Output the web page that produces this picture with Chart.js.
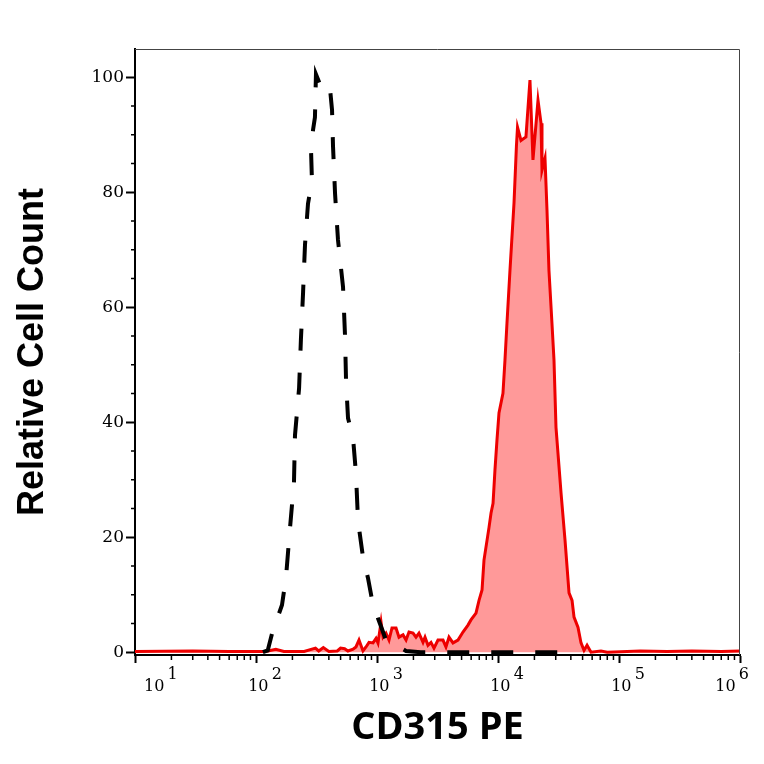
<!DOCTYPE html>
<html>
<head>
<meta charset="utf-8">
<script src="https://cdn.jsdelivr.net/npm/chart.js@4.4.1/dist/chart.umd.min.js"></script>
<style>
  html, body { margin: 0; padding: 0; background: #fff; }
  #wrap { width: 764px; height: 764px; }
</style>
</head>
<body>
<div id="wrap"><canvas id="histo" width="764" height="764"></canvas></div>
<script>
// isotype control histogram (black dashed), fluorescence value -> relative count
const ctrlX = [114, 125, 136, 164, 177, 191, 206, 210, 227, 235,
               245, 254, 269, 290, 285, 296, 307, 313, 357, 409,
               425, 433, 450, 476, 524, 544, 555, 576, 633, 670,
               697, 766, 842, 927, 1019, 1187, 1436, 1738, 2300, 38000];
const ctrlY = [0, 0.3, 3.3, 8.2, 13, 21.6, 29.6, 37.7, 45.9, 54.3,
               62.6, 70.8, 78, 82, 87.3, 90.8, 93, 100.5, 97.5, 98,
               94.3, 88, 79.8, 71.7, 63.5, 55.1, 47.1, 40.7, 37.4, 31.1,
               22.8, 16.5, 12.9, 8.2, 5.9, 2.1, 1.2, 0.2, 0, 0];

// CD315 PE stained histogram (red filled)
const cd315X = [10, 30, 60, 120, 146, 170, 250, 310, 330, 360,
                400, 470, 500, 540, 575, 634, 670, 710, 766, 811,
                859, 927, 982, 1019, 1080, 1122, 1187, 1257, 1330, 1436,
                1520, 1641, 1738, 1838, 1985, 2100, 2223, 2400, 2494, 2638,
                2794, 2958, 3192, 3510, 3715, 3936, 4246, 4671, 5137, 5650,
                5980, 6580, 6970, 7380, 7660, 8430, 8760, 9100, 9440, 9810,
                10190, 10990, 11420, 11860, 12560, 13560, 14200, 14500, 15490, 17020,
                18370, 19450, 21410, 22670, 23100, 24460, 25400, 26370, 27920, 29020,
                30150, 33180, 35800, 38630, 40920, 42490, 45850, 48540, 51400, 54440,
                58720, 70960, 80000, 150000, 250000, 400000, 700000, 1000000];
const cd315Y = [0.1, 0.2, 0.1, 0.1, 0.5, 0.1, 0.1, 0.7, 0.2, 0.8,
                0.1, 0.2, 0.7, 0.6, 0.2, 0.5, 0.9, 2.1, 0.2, 0.9,
                1.7, 1.6, 2.4, 1.6, 5.2, 2.6, 3.3, 2.1, 4.2, 4.2,
                2.6, 3.0, 2.1, 3.5, 3.3, 2.6, 3.3, 1.7, 2.6, 1.2,
                1.7, 0.7, 2.1, 2.1, 0.9, 2.6, 1.6, 2.1, 3.5, 4.7,
                5.6, 6.8, 9.0, 10.8, 16.0, 21.7, 24.2, 25.9, 31.7, 36.9,
                41.6, 45.0, 50.8, 57.2, 66.4, 78.1, 88.0, 91.3, 89.0, 89.6,
                99.5, 85.6, 96.0, 92.0, 83.8, 85.9, 76.9, 66.4, 57.2, 50.8,
                39.1, 27.7, 19.5, 10.3, 9.0, 6.1, 4.3, 1.6, 0.3, 1.2,
                0.0, 0.2, 0.0, 0.2, 0.1, 0.2, 0.1, 0.2];

// axis ticks
const xTicks = [10, 100, 1000, 10000, 100000, 1000000];
const xMinorMult = [2, 3, 4, 5, 6, 7, 8, 9];
const yTicks = [0, 20, 40, 60, 80, 100];
const yMinor = [5, 10, 15, 25, 30, 35, 45, 50, 55, 65, 70, 75, 85, 90, 95];

function toPoints(xs, ys) {
    return xs.map((x, i) => ({ x: x, y: ys[i] }));
}

// "10" with the exponent on a line above it; both lines padded to the same width
// so the exponent sits right of the base whatever the alignment
function powerLabel(v) {
    const exp = String(Math.round(Math.log10(v)));
    return ['\u2007\u2007\u2009' + exp, '10\u2009\u2007'];
}

// thin frame on top/right plus the short minor ticks
const frameAndMinorTicks = {
    id: 'frameAndMinorTicks',
    afterDraw(chart) {
        const ctx = chart.ctx;
        const area = chart.chartArea;
        const xs = chart.scales.x, ys = chart.scales.y;
        ctx.save();
        ctx.strokeStyle = '#444';
        ctx.lineWidth = 1;
        ctx.beginPath();
        ctx.moveTo(area.left, area.top + 0.5);
        ctx.lineTo(area.right - 0.5, area.top + 0.5);
        ctx.lineTo(area.right - 0.5, area.bottom);
        ctx.stroke();

        ctx.strokeStyle = '#000';
        ctx.lineWidth = 1.5;
        ctx.beginPath();
        xTicks.slice(0, -1).forEach(d => xMinorMult.forEach(m => {
            const px = xs.getPixelForValue(d * m);
            ctx.moveTo(px, area.bottom);
            ctx.lineTo(px, area.bottom + 5);
        }));
        yMinor.forEach(v => {
            const py = ys.getPixelForValue(v);
            ctx.moveTo(area.left, py);
            ctx.lineTo(area.left - 4, py);
        });
        ctx.stroke();
        ctx.restore();
    }
};

new Chart(document.getElementById('histo'), {
    type: 'line',
    data: {
        datasets: [{
            label: 'Isotype control',
            data: toPoints(ctrlX, ctrlY),
            borderColor: '#000',
            borderWidth: 4,
            borderDash: [22, 22],
            borderCapStyle: 'butt',
            pointRadius: 0,
            tension: 0,
            fill: false
        }, {
            label: 'CD315 PE',
            data: toPoints(cd315X, cd315Y),
            borderColor: '#ee0000',
            borderWidth: 3,
            backgroundColor: 'rgba(255, 0, 0, 0.4)',
            fill: 'origin',
            pointRadius: 0,
            tension: 0
        }]
    },
    options: {
        responsive: false,
        animation: false,
        devicePixelRatio: 1,
        layout: { padding: { top: 49, right: 24, left: 0, bottom: 0 } },
        plugins: {
            legend: { display: false },
            tooltip: { enabled: false }
        },
        scales: {
            x: {
                type: 'logarithmic',
                min: 10,
                max: 1000000,
                afterBuildTicks: s => { s.ticks = xTicks.map(v => ({ value: v })); },
                afterFit: s => { s.height = 109; s.paddingLeft = 0; s.paddingRight = 0; },
                grid: { display: true, drawOnChartArea: false, drawTicks: true, tickLength: 8, tickColor: '#000', tickWidth: 2 },
                border: { display: true, color: '#000', width: 2 },
                ticks: {
                    color: '#000',
                    font: { family: 'DejaVu Serif', size: 16, lineHeight: '12px' },
                    padding: 6,
                    align: 'inner',
                    labelOffset: 9,
                    maxRotation: 0,
                    autoSkip: false,
                    callback: powerLabel
                },
                title: {
                    display: true,
                    text: 'CD315 PE',
                    color: '#000',
                    font: { family: 'Open Sans', size: 38, weight: 'bold' },
                    padding: { top: 0, bottom: 13 }
                }
            },
            y: {
                min: -0.5,
                max: 104.9,
                afterBuildTicks: s => { s.ticks = yTicks.map(v => ({ value: v })); },
                afterFit: s => { s.width = 135; },
                grid: { display: true, drawOnChartArea: false, drawTicks: true, tickLength: 9, tickColor: '#000', tickWidth: 2 },
                border: { display: true, color: '#000', width: 2 },
                ticks: {
                    color: '#000',
                    font: { family: 'DejaVu Serif', size: 17 },
                    padding: 2
                },
                title: {
                    display: true,
                    text: 'Relative Cell Count',
                    color: '#000',
                    font: { family: 'Liberation Sans', size: 36, weight: 'bold' },
                    padding: { top: 11, bottom: 0 }
                }
            }
        }
    },
    plugins: [frameAndMinorTicks]
});
</script>
</body>
</html>
